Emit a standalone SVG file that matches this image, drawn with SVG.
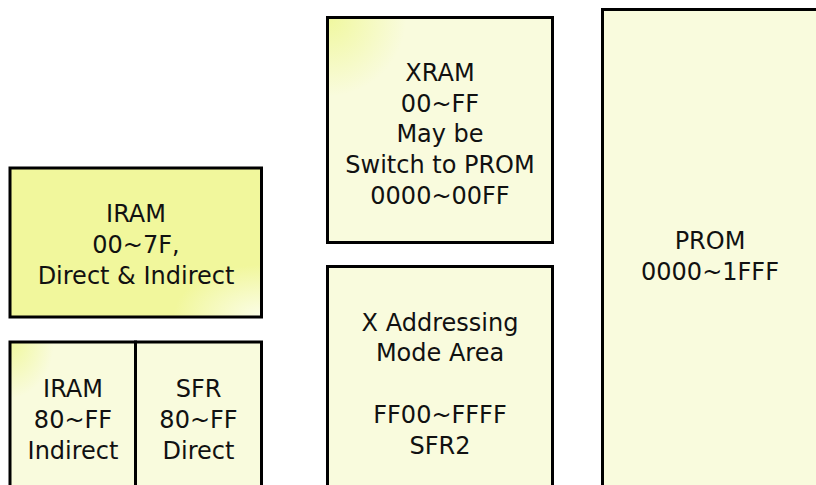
<svg xmlns="http://www.w3.org/2000/svg" width="816" height="485" viewBox="0 0 816 485">
  <defs>
    <radialGradient id="tl" cx="0" cy="0" r="0.35" fx="0" fy="0">
      <stop offset="0" stop-color="#f0f89e"/>
      <stop offset="1" stop-color="#f9fbdd"/>
    </radialGradient>
    <radialGradient id="br" cx="1" cy="1" r="0.35" fx="1" fy="1">
      <stop offset="0" stop-color="#fbfde8"/>
      <stop offset="1" stop-color="#f1f79c"/>
    </radialGradient>
  </defs>
  <style>
    .box { stroke: #000; stroke-width: 3; }
    .cream { fill: #f9fbdd; }
    .tl { fill: url(#tl); }
    .br { fill: url(#br); }
    text { font-family: "DejaVu Sans", "Noto Sans CJK KR", sans-serif; font-size: 24px; fill: #111; text-anchor: middle; }
  </style>
  <rect width="816" height="485" fill="#fff"/>
  <g id="iram-low">
    <rect class="box br" x="10" y="168" width="251.5" height="149"/>
    <text x="136" y="222">IRAM</text>
    <text x="136" y="253">00~7F,</text>
    <text x="136" y="284">Direct &amp; Indirect</text>
  </g>
  <g id="iram-high">
    <rect class="box tl" x="10" y="342" width="125.5" height="160"/>
    <text x="73" y="397">IRAM</text>
    <text x="73" y="428">80~FF</text>
    <text x="73" y="459">Indirect</text>
  </g>
  <g id="sfr">
    <rect class="box cream" x="135.5" y="342" width="126" height="160"/>
    <text x="198.5" y="397">SFR</text>
    <text x="198.5" y="428">80~FF</text>
    <text x="198.5" y="459">Direct</text>
  </g>
  <g id="xram">
    <rect class="box tl" x="327.5" y="17.5" width="225" height="225"/>
    <text x="440" y="81">XRAM</text>
    <text x="440" y="112">00~FF</text>
    <text x="440" y="142">May be</text>
    <text x="440" y="173">Switch to PROM</text>
    <text x="440" y="204">0000~00FF</text>
  </g>
  <g id="xaddr">
    <rect class="box cream" x="327.5" y="266.5" width="225" height="240"/>
    <text x="440" y="331">X Addressing</text>
    <text x="440" y="361">Mode Area</text>
    <text x="440" y="423">FF00~FFFF</text>
    <text x="440" y="454">SFR2</text>
  </g>
  <g id="prom">
    <rect class="box cream" x="602.5" y="9.5" width="300" height="500"/>
    <text x="710" y="249">PROM</text>
    <text x="710" y="280">0000~1FFF</text>
  </g>
  <g id="connectors"/>
</svg>
